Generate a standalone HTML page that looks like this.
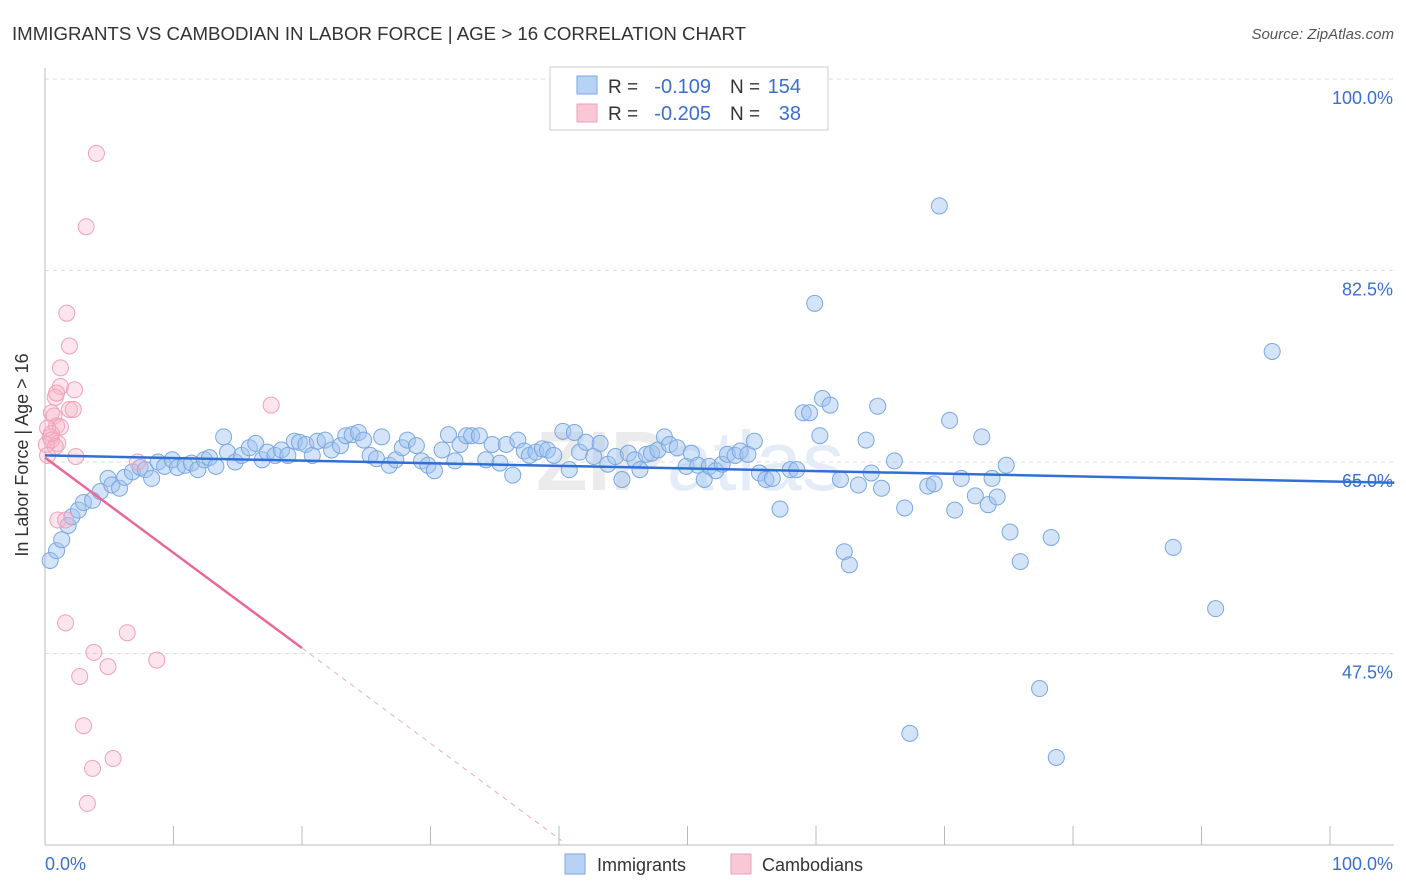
<!DOCTYPE html>
<html><head><meta charset="utf-8"><style>
body{margin:0;background:#fff;font-family:"Liberation Sans",sans-serif;}
#c{position:relative;width:1406px;height:892px;overflow:hidden;}
</style></head><body>
<div id="c">
<svg id="s" width="1406" height="892" font-family="Liberation Sans, sans-serif">
<text x="12" y="40" font-size="18" fill="#333" textLength="734" lengthAdjust="spacingAndGlyphs">IMMIGRANTS VS CAMBODIAN IN LABOR FORCE | AGE &gt; 16 CORRELATION CHART</text>
<text x="1394" y="39" font-size="15" fill="#555" font-style="italic" text-anchor="end">Source: ZipAtlas.com</text>
<g id="grid"></g>
<text x="690" y="490" font-size="84" font-weight="bold" fill="#ebebeb" text-anchor="middle">ZIP<tspan font-weight="normal" fill="#e3ecf7">atlas</tspan></text>
<g id="axes"></g>
<g id="pts"></g>
<g id="trend"></g>
<text x="28" y="455" font-size="18" fill="#333" text-anchor="middle" transform="rotate(-90 28 455)">In Labor Force | Age &gt; 16</text>
<text x="45" y="870" font-size="18" fill="#3a6fd1">0.0%</text>
<text x="1393" y="870" font-size="18" fill="#3a6fd1" text-anchor="end">100.0%</text>
<g>
<rect x="550" y="67" width="278" height="63" fill="#fff" stroke="#ccc"/>
<rect x="577" y="76" width="20" height="18" fill="#b8d2f5" stroke="#7aa7e0"/>
<rect x="577" y="104" width="20" height="18" fill="#f8c8d6" stroke="#f0a0b8"/>
<text x="608" y="93" font-size="19" fill="#333">R =</text>
<text x="711" y="93" font-size="20" fill="#3a6fd1" text-anchor="end">-0.109</text>
<text x="730" y="93" font-size="19" fill="#333">N =</text>
<text x="801" y="93" font-size="20" fill="#3a6fd1" text-anchor="end">154</text>
<text x="608" y="120" font-size="19" fill="#333">R =</text>
<text x="711" y="120" font-size="20" fill="#3a6fd1" text-anchor="end">-0.205</text>
<text x="730" y="120" font-size="19" fill="#333">N =</text>
<text x="801" y="120" font-size="20" fill="#3a6fd1" text-anchor="end">38</text>
</g>
<g>
<rect x="565" y="854" width="20" height="20" fill="#b8d2f5" stroke="#7aa7e0"/>
<text x="597" y="871" font-size="18" fill="#333">Immigrants</text>
<rect x="731" y="854" width="20" height="20" fill="#f8c8d6" stroke="#f0a0b8"/>
<text x="762" y="871" font-size="18" fill="#333">Cambodians</text>
</g>
</svg>
</div>
<script>
const yTicks=[100,82.5,65,47.5];
const yTickLabels=["100.0%","82.5%","65.0%","47.5%"];
const xTicks=[0,10,20,30,40,50,60,70,80,90,100];
const blueX=[0.4,0.9,1.3,1.8,2.1,2.6,3.0,3.7,4.3,4.9,5.2,5.8,6.2,6.8,7.4,7.8,8.3,8.8,9.3,9.9,10.3,10.9,11.4,11.9,12.4,12.8,13.3,13.9,14.2,14.8,15.3,15.9,16.4,16.9,17.3,17.9,18.4,18.9,19.4,19.8,20.3,20.8,21.2,21.8,22.3,23.0,23.4,23.9,24.4,24.8,25.3,25.8,26.2,26.8,27.3,27.8,28.2,28.9,29.3,29.8,30.3,30.9,31.4,31.9,32.3,32.8,33.2,33.8,34.3,34.8,35.4,35.9,36.4,36.8,37.3,37.7,38.2,38.7,39.1,39.6,40.3,40.8,41.2,41.6,42.1,42.7,43.2,43.8,44.4,44.9,45.4,45.9,46.3,46.8,47.2,47.7,48.2,48.6,49.2,49.9,50.3,50.8,51.3,51.7,52.2,52.7,53.1,53.7,54.1,54.7,55.2,55.6,56.1,56.6,57.2,58.0,58.5,59.0,59.5,59.9,60.3,60.5,61.1,61.9,62.2,62.6,63.3,63.9,64.3,64.8,65.1,66.1,66.9,67.3,68.7,69.2,69.6,70.4,70.8,71.3,72.4,72.9,73.4,73.7,74.1,74.8,75.1,75.9,77.4,78.3,78.7,87.8,91.1,95.5];
const blueY=[56.0,56.9,57.9,59.2,60.0,60.6,61.3,61.5,62.3,63.5,62.9,62.6,63.6,64.1,64.5,64.3,63.5,65.0,64.6,65.2,64.5,64.7,64.9,64.3,65.2,65.4,64.6,67.3,65.9,65.0,65.6,66.3,66.7,65.2,65.9,65.6,66.1,65.6,66.9,66.8,66.6,65.6,66.9,67.0,66.1,66.5,67.4,67.5,67.7,67.0,65.6,65.3,67.3,64.7,65.2,66.3,67.0,66.5,65.1,64.7,64.2,66.1,67.5,65.1,66.6,67.4,67.4,67.4,65.2,66.6,64.9,66.6,63.8,67.0,66.0,65.6,65.9,66.2,66.1,65.6,67.8,64.3,67.7,65.9,66.8,65.5,66.7,64.8,65.5,63.4,65.8,65.2,64.3,65.7,65.8,66.1,67.3,66.6,66.3,64.6,65.8,64.7,63.4,64.6,64.2,64.8,65.7,65.6,66.0,65.7,66.9,64.0,63.4,63.5,60.7,64.3,64.3,69.5,69.5,79.5,67.4,70.8,70.2,63.4,56.8,55.6,62.9,67.0,64.0,70.1,62.6,65.1,60.8,40.2,62.8,63.0,88.4,68.8,60.6,63.5,61.9,67.3,61.1,63.5,61.8,64.7,58.6,55.9,44.3,58.1,38.0,57.2,51.6,75.1];
const pinkX=[4.0,3.2,1.7,1.9,1.2,1.2,2.3,0.8,0.9,0.5,1.9,2.2,0.7,0.9,1.2,0.2,0.4,0.5,1.0,0.8,2.4,0.1,7.2,17.6,1.0,1.6,1.6,6.4,3.8,8.7,4.9,2.7,3.0,3.7,5.3,3.3,0.5,0.2];
const pinkY=[93.2,86.5,78.6,75.6,73.6,71.9,71.6,70.9,71.3,69.5,69.8,69.8,69.2,68.3,68.2,68.1,67.3,67.0,66.7,66.4,65.5,66.6,65.0,70.2,59.7,59.7,50.3,49.4,47.6,46.9,46.3,45.4,40.9,37.0,37.9,33.8,67.6,65.6];
const blueTrend=[[0,65.6],[105,63.1]];
const pinkTrendSolid=[[0,65.4],[20,48.0]];
const pinkTrendDash=[[20,48.0],[40.2,30.4]];
const NS="http://www.w3.org/2000/svg";
const xs=v=>45+v*12.85;
const ys=v=>462-(v-65)*191.5/17.5;
function mk(tag,attrs,parent){const e=document.createElementNS(NS,tag);for(const k in attrs)e.setAttribute(k,attrs[k]);parent.appendChild(e);return e;}
const grid=document.getElementById('grid'),axes=document.getElementById('axes'),pts=document.getElementById('pts'),trend=document.getElementById('trend');
yTicks.forEach((t,i)=>{
 const l=mk('line',{x1:45,x2:1394,y1:ys(t),y2:ys(t),stroke:'#ddd','stroke-dasharray':'4,4'},grid);
 
 
 const tx=mk('text',{x:1393,y:ys(t)+25,'font-size':18,fill:'#3a6fd1','text-anchor':'end'},grid);
 tx.textContent=yTickLabels[i];
 
 
});
const ya=mk('line',{x1:45,x2:45,y1:68,y2:845,stroke:'#bbb'},axes);


const xa=mk('line',{x1:45,x2:1394,y1:845,y2:845,stroke:'#bbb'},axes);


xTicks.forEach(t=>{
 const l=mk('line',{x1:xs(t),x2:xs(t),y1:826,y2:845,stroke:'#bbb'},axes);
 
 
});
blueX.forEach((x,i)=>{
 const c=mk('circle',{cx:xs(x),cy:ys(blueY[i]),r:8,fill:'rgba(160,195,240,0.45)',stroke:'#7aa7e0','stroke-width':1},pts);
 
 
});
pinkX.forEach((x,i)=>{
 const c=mk('circle',{cx:xs(x),cy:ys(pinkY[i]),r:8,fill:'rgba(245,180,200,0.35)',stroke:'#f0a0b8','stroke-width':1},pts);
 
 
});
const bt=mk('line',{x1:xs(blueTrend[0][0]),y1:ys(blueTrend[0][1]),x2:xs(blueTrend[1][0]),y2:ys(blueTrend[1][1]),stroke:'#2f6fd6','stroke-width':2.5},trend);


const pt=mk('line',{x1:xs(pinkTrendSolid[0][0]),y1:ys(pinkTrendSolid[0][1]),x2:xs(pinkTrendSolid[1][0]),y2:ys(pinkTrendSolid[1][1]),stroke:'#e8689a','stroke-width':2.5},trend);


const pd=mk('line',{x1:xs(pinkTrendDash[0][0]),y1:ys(pinkTrendDash[0][1]),x2:xs(pinkTrendDash[1][0]),y2:ys(pinkTrendDash[1][1]),stroke:'#eeaac4','stroke-width':1,'stroke-dasharray':'5,5'},trend);


</script>
</body></html>
